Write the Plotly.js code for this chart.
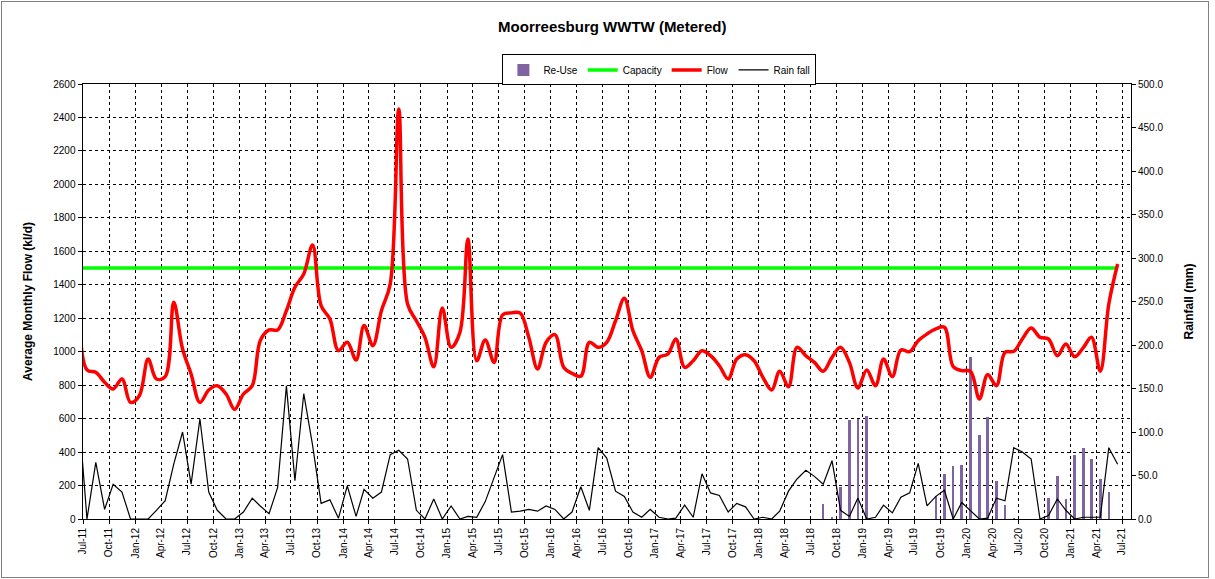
<!DOCTYPE html>
<html>
<head>
<meta charset="utf-8">
<script src="https://cdn.plot.ly/plotly-3.0.1.min.js"></script>
<style>
  html, body { margin: 0; padding: 0; background: #fff; }
  #wrap { position: relative; width: 1215px; height: 579px; }
  #chart { width: 1215px; height: 579px; }
  #frame { position: absolute; left: 1px; top: 1px; width: 1206px; height: 575px; border: 1px solid #808080; pointer-events: none; }
</style>
</head>
<body>
<div id="wrap"><div id="chart"></div><div id="frame"></div></div>
<script>
// Months: mid-month dates, Jun-11 .. Jun-21 (121 months)
const firstYear = 2011, firstMonth = 6, monthCount = 121;
const months = [];
for (let i = 0; i < monthCount; i++) {
  const m = firstMonth - 1 + i;
  const y = firstYear + Math.floor(m / 12);
  const mm = (m % 12) + 1;
  months.push(y + '-' + String(mm).padStart(2, '0') + '-15');
}

// Average monthly flow (kl/d), Jun-11 .. Jun-21
const flow = [
  1400,
  891, 877, 817, 777, 837, 697,
  737, 956, 837, 851, 1295, 1016, 867, 697, 771, 797, 747, 655,
  747, 797, 1066, 1130, 1130, 1245, 1385, 1464, 1638, 1275, 1195, 1006,
  1056, 950, 1156, 1036, 1245, 1405, 2450, 1285, 1185, 1086, 910, 1261,
  1026, 1116, 1673, 946, 1070, 936, 1220, 1232, 1230, 1086, 897, 1056,
  1102, 906, 871, 853, 1056, 1026, 1056, 1185, 1319, 1126, 1006, 847,
  966, 986, 1076, 906, 946, 1006, 976, 916, 837, 956, 982, 946,
  847, 771, 883, 791, 1026, 976, 936, 883, 966, 1026, 936, 783,
  891, 797, 956, 851, 1010, 1000, 1066, 1106, 1136, 1146, 911, 887,
  883, 717, 863, 797, 996, 1002, 1076, 1142, 1086, 1076, 976, 1046,
  970, 1026, 1086, 883, 1285, 1524
];

// Rainfall (mm), Jun-11 .. Jun-21
const rain = [
  125,
  0, 65, 11, 40, 31, 0,
  0, 0, 10, 21, 63, 100, 40, 115, 31, 10, 0, 0,
  8, 24, 15, 6, 36, 153, 44, 144, 85, 18, 22, 1,
  38, 3, 34, 24, 31, 74, 79, 69, 10, 0, 23, 0,
  15, 0, 3, 2, 20, 48, 74, 8, 9, 11, 9, 15,
  11, 0, 8, 37, 10, 82, 70, 32, 26, 8, 2, 11,
  2, 0, 1, 16, 2, 52, 30, 27, 8, 18, 14, 0,
  2, 0, 9, 32, 46, 56, 49, 40, 67, 10, 3, 24,
  0, 2, 16, 7, 25, 30, 64, 15, 26, 33, 0, 19,
  10, 0, 1, 24, 21, 82, 77, 69, 0, 4, 23, 10,
  0, 2, 2, 2, 82, 63
];

// Re-use (kl/d), Jun-11 .. Jun-21 (null = none)
const reuse = [
  null,
  null, null, null, null, null, null,
  null, null, null, null, null, null, null, null, null, null, null, null,
  null, null, null, null, null, null, null, null, null, null, null, null,
  null, null, null, null, null, null, null, null, null, null, null, null,
  null, null, null, null, null, null, null, null, null, null, null, null,
  null, null, null, null, null, null, null, null, null, null, null, null,
  null, null, null, null, null, null, null, null, null, null, null, null,
  null, null, null, null, null, null, null, 90, 14, 189, 592, 598,
  614, null, null, null, null, null, null, null, 139, 269, 315, 323,
  970, 502, 612, 225, 86, 6, null, null, null, 126, 255, 122,
  383, 422, 361, 239, 161, null
];

const capacity = 1500;

// Tick labels (every 3 months)
const tickDates = [];
const tickLabels = [];
const monNames = ['Jan','Apr','Jul','Oct'];
for (let y = 2011; y <= 2021; y++) {
  for (let q = 0; q < 4; q++) {
    const mm = q * 3 + 1;
    const d = y + '-' + String(mm).padStart(2, '0') + '-01';
    if (d < '2011-07-01' || d > '2021-07-01') continue;
    tickDates.push(d);
    tickLabels.push(monNames[q] + '-' + String(y).slice(2));
  }
}

const font = 'Liberation Sans, Arial, sans-serif';

const traces = [
  {
    type: 'bar', name: 'Re-Use', x: months, y: reuse,
    marker: { color: '#8064A2' }, width: 9 * 86400000,
    yaxis: 'y'
  },
  {
    type: 'scatter', mode: 'lines', name: 'Capacity',
    x: [months[0], months[months.length - 1]], y: [capacity, capacity],
    line: { color: '#00FF00', width: 3.5 }, yaxis: 'y'
  },
  {
    type: 'scatter', mode: 'lines', name: 'Flow', x: months, y: flow,
    line: { color: '#FF0000', width: 3.5, shape: 'spline', smoothing: 1 },
    yaxis: 'y'
  },
  {
    type: 'scatter', mode: 'lines', name: 'Rain fall', x: months, y: rain,
    line: { color: '#000000', width: 1.2 }, yaxis: 'y2'
  }
];

const layout = {
  width: 1215, height: 579,
  margin: { l: 83, r: 84, t: 84, b: 60 },
  paper_bgcolor: '#ffffff', plot_bgcolor: '#ffffff',
  font: { family: font, size: 10, color: '#000' },
  title: {
    text: '<b>Moorreesburg WWTW (Metered)</b>',
    font: { family: font, size: 15, color: '#000' },
    x: 0.505, xref: 'paper', xanchor: 'center', y: 0.953, yanchor: 'middle'
  },
  showlegend: true,
  legend: {
    orientation: 'h', x: 0.55, xanchor: 'center', y: 1.068, yanchor: 'top',
    bordercolor: '#000', borderwidth: 1, bgcolor: '#fff',
    font: { family: font, size: 10 }, itemwidth: 30, tracegroupgap: 0
  },
  bargap: 0,
  xaxis: {
    type: 'date', range: ['2011-07-01', '2021-08-01'],
    tickmode: 'array', tickvals: tickDates, ticktext: tickLabels,
    tickangle: -90, tickfont: { family: font, size: 10 },
    ticks: 'outside', ticklen: 4, tickcolor: '#000',
    showgrid: true, gridcolor: '#000', gridwidth: 1, griddash: 'dot',
    showline: true, linecolor: '#000', linewidth: 1, mirror: true,
    zeroline: false
  },
  yaxis: {
    range: [0, 2600], dtick: 200, tick0: 0,
    tickfont: { family: font, size: 10 },
    ticks: 'outside', ticklen: 4, tickcolor: '#000',
    showgrid: true, gridcolor: '#000', gridwidth: 1, griddash: 'dot',
    showline: true, linecolor: '#000', linewidth: 1.5,
    zeroline: false,
    title: { text: '<b>Average Monthly Flow (kl/d)</b>', font: { family: font, size: 12 }, standoff: 18 }
  },
  yaxis2: {
    overlaying: 'y', side: 'right', range: [0, 500], dtick: 50, tick0: 0,
    tickformat: '.1f', tickfont: { family: font, size: 10 },
    ticks: 'outside', ticklen: 4, tickcolor: '#000',
    showgrid: false, showline: true, linecolor: '#000', linewidth: 1,
    zeroline: false,
    title: { text: '<b>Rainfall (mm)</b>', font: { family: font, size: 12 }, standoff: 22 }
  }
};

Plotly.newPlot('chart', traces, layout, { displayModeBar: false, staticPlot: true });
</script>
</body>
</html>
